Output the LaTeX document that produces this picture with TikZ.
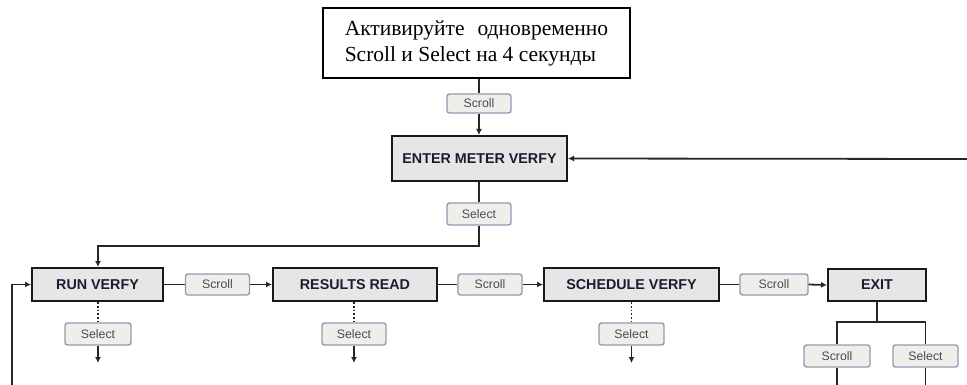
\documentclass[tikz,border=0pt]{standalone}
\usepackage{fontspec}
\setmainfont{Liberation Serif}
\setsansfont{Liberation Sans}
\usetikzlibrary{arrows.meta}
\definecolor{boxfill}{HTML}{E6E6E6}
\definecolor{btnfill}{HTML}{EFEEEA}
\definecolor{btnedge}{HTML}{8E9CB2}
\definecolor{btntext}{HTML}{4A4A55}
\definecolor{boxtext}{HTML}{1C1C30}
\begin{document}
\begin{tikzpicture}[x=1pt,y=-1pt,
  mainbox/.style={draw=black!90, line width=2pt, fill=boxfill, minimum height=33pt, inner sep=0pt,
    font=\sffamily\bfseries\fontsize{14.3}{16}\selectfont, text=boxtext},
  btn/.style={draw=btnedge, line width=1.4pt, fill=btnfill, rounded corners=2.5pt, minimum width=64pt,
    minimum height=21pt, inner sep=0pt, font=\sffamily\fontsize{12.3}{13}\selectfont, text=btntext},
  conn/.style={line width=1.8pt, draw=black!85},
  arr/.style={conn, -{Latex[length=6pt,width=6pt]}},
  dots/.style={line width=1.8pt, draw=black!85, dotted}]
\useasboundingbox (0,0) rectangle (967,385);
% top instruction box
\node[draw=black, line width=1.6pt, fill=white, minimum width=307pt, minimum height=70pt, inner sep=0pt,
  align=left, font=\fontsize{21.5}{26}\selectfont] (top) at (476.5,43)
  {Активируйте\hspace{0.6em}одновременно\\Scroll и Select на 4 секунды};
\node[btn, minimum height=19pt] (sc0) at (479,103.5) {Scroll};
\node[mainbox, minimum width=175pt, minimum height=45pt] (enter) at (479.5,158.5) {ENTER METER VERFY};
\node[btn, minimum height=22pt] (sel0) at (479,214) {Select};
% main row
\node[mainbox, minimum width=131pt] (run) at (97.5,284.5) {RUN VERFY};
\node[btn] (sc1) at (217.5,284.5) {Scroll};
\node[mainbox, minimum width=164pt] (res) at (355,284.5) {RESULTS READ};
\node[btn] (sc2) at (490,284.5) {Scroll};
\node[mainbox, minimum width=175pt] (sched) at (631.5,284.5) {SCHEDULE VERFY};
\node[btn, minimum width=68pt] (sc3) at (774,284.5) {Scroll};
\node[mainbox, minimum width=98pt, minimum height=32pt] (exit) at (877,285) {EXIT};
% select buttons under boxes
\node[btn, minimum width=66pt, minimum height=22pt] (selR) at (98,334) {Select};
\node[btn, minimum height=22pt] (selRes) at (354,334) {Select};
\node[btn, minimum width=65pt, minimum height=22pt] (selS) at (631.5,334) {Select};
\node[btn, minimum width=66pt, minimum height=22pt] (exSc) at (837,356) {Scroll};
\node[btn, minimum width=65pt, minimum height=22pt] (exSel) at (925.5,356) {Select};
% coordinates
\coordinate (endR) at (98,363);
\coordinate (endRes) at (354,363);
\coordinate (endS) at (631.5,363);
\coordinate (leftBot) at (12,385);
\coordinate (rightIn) at (967,159);
\coordinate (exScBot) at (837,385);
\coordinate (exSelBot) at (925.5,385);
\coordinate (split) at (877,322);
% connectors
\draw[conn] (top.south -| sc0) -- (sc0.north);
\draw[arr] (sc0.south) -- (enter.north -| sc0);
\draw[conn] (enter.south -| sel0) -- (sel0.north);
\draw[arr] (sel0.south) -- (479,246) -- (98,246) -- (run.north -| selR);
\draw[arr] (leftBot) -- (12,284.5) -- (run.west);
\draw[arr] (rightIn) -- (enter.east);
\draw[conn] (run.east) -- (sc1.west);
\draw[arr] (sc1.east) -- (res.west);
\draw[conn] (res.east) -- (sc2.west);
\draw[arr] (sc2.east) -- (sched.west);
\draw[conn] (sched.east) -- (sc3.west);
\draw[arr] (sc3.east) -- (exit.west);
\draw[dots] (run.south -| selR) -- (selR.north);
\draw[dots] (res.south -| selRes) -- (selRes.north);
\draw[dots] (sched.south -| selS) -- (selS.north);
\draw[arr] (selR.south) -- (endR);
\draw[arr] (selRes.south) -- (endRes);
\draw[arr] (selS.south) -- (endS);
\draw[conn] (exit.south) -- (split);
\draw[conn] (exSc.north) |- (split) -| (exSel.north);
\draw[conn] (exSc.south) -- (exScBot);
\draw[conn] (exSel.south) -- (exSelBot);
\end{tikzpicture}
\end{document}
